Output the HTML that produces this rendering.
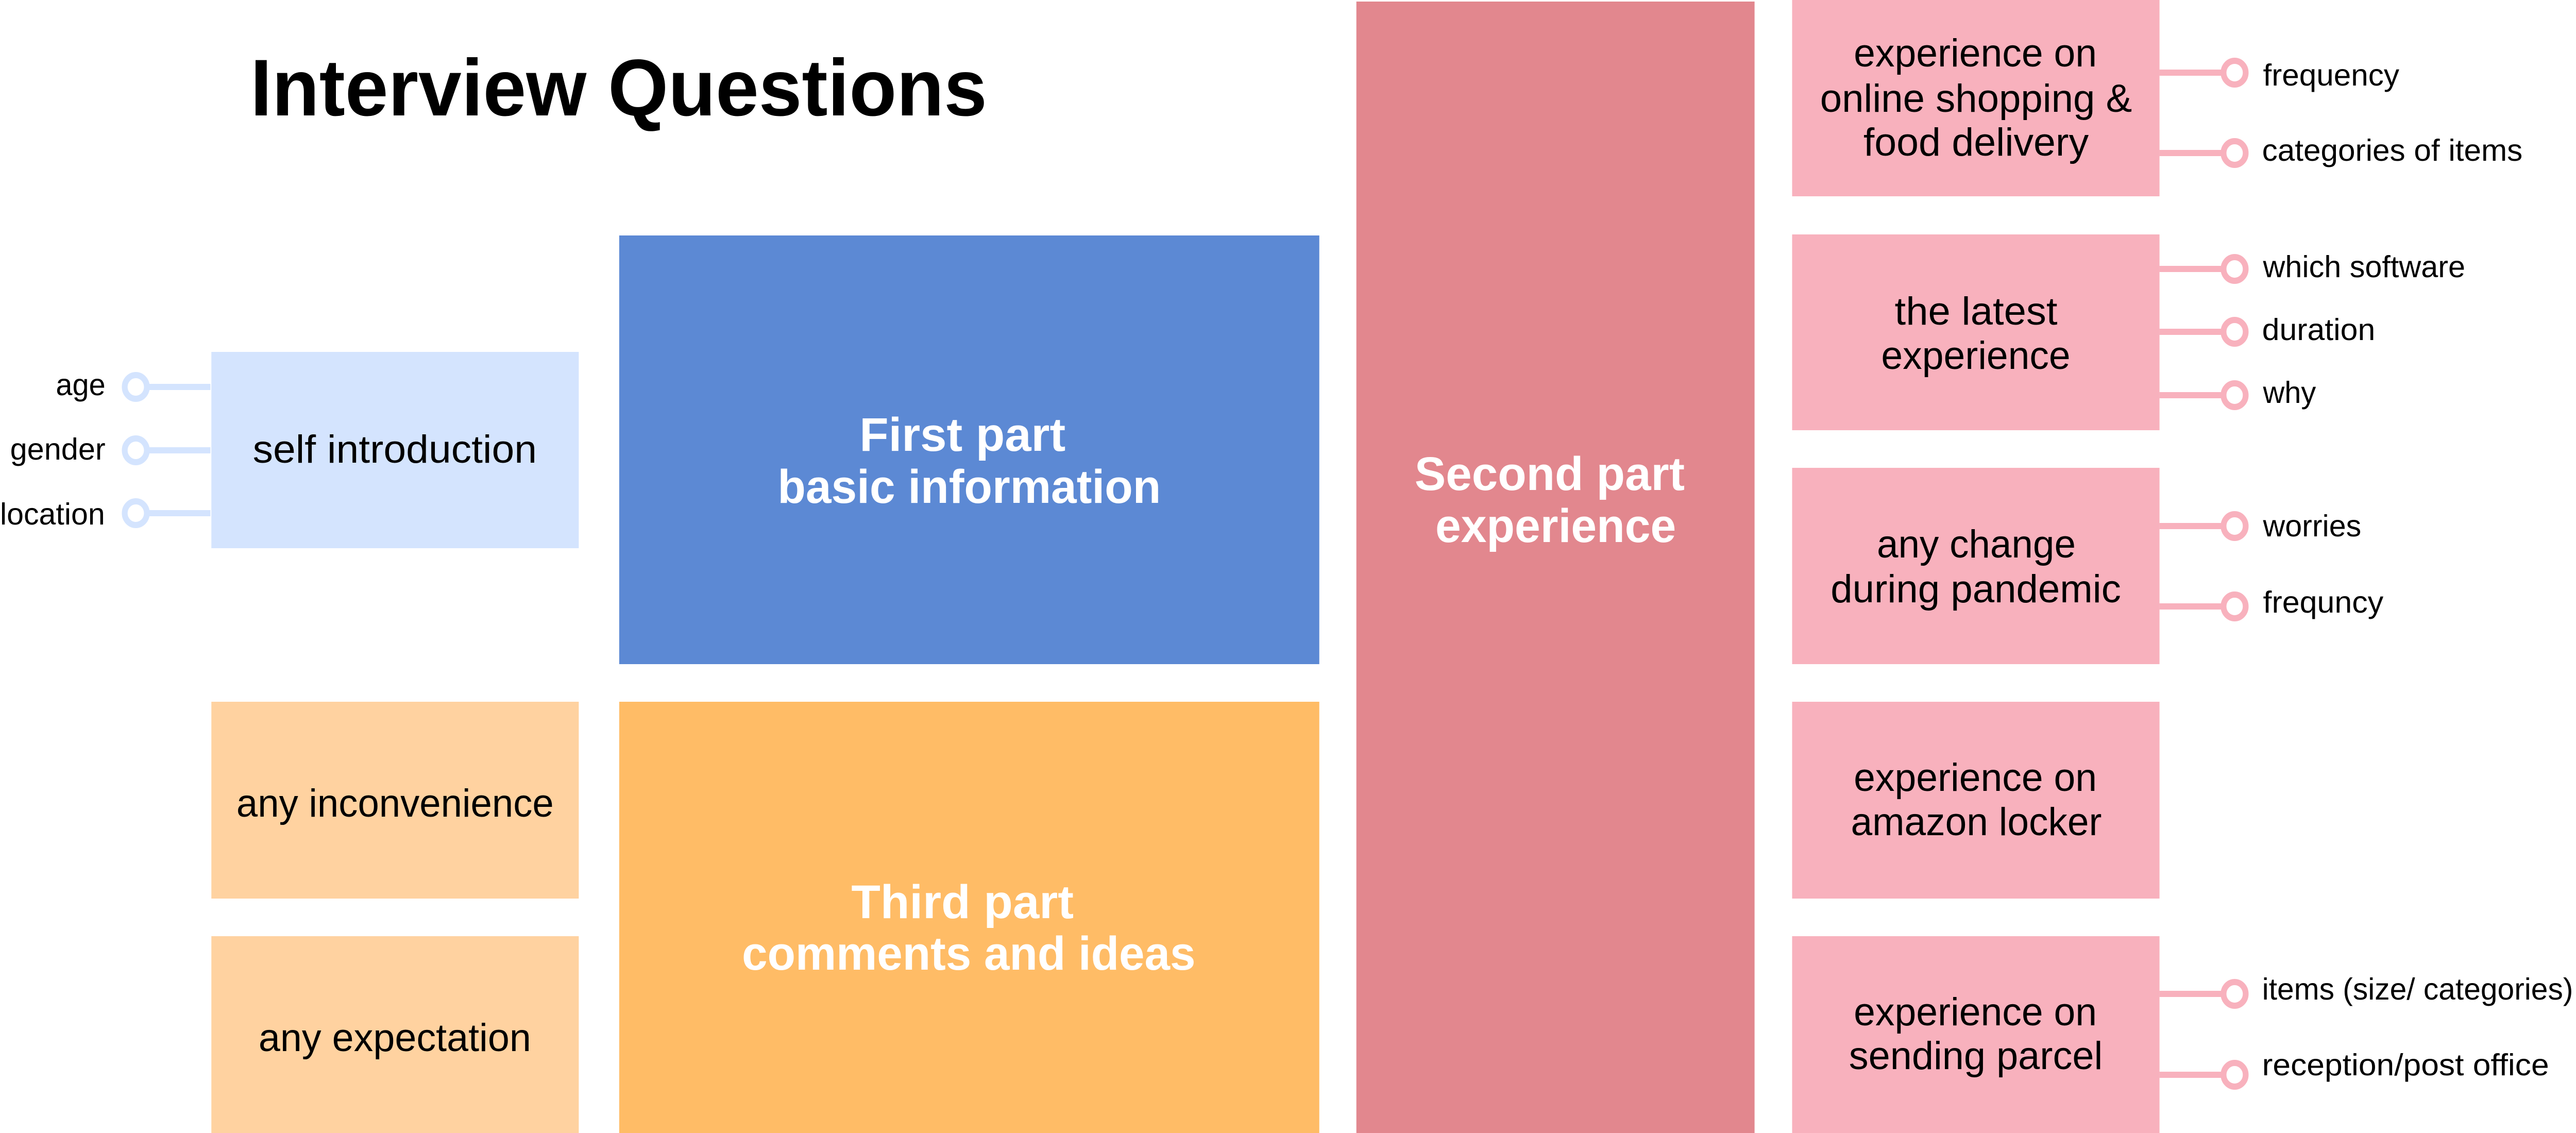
<!DOCTYPE html>
<html lang="en">
<head>
<meta charset="utf-8">
<title>Interview Questions</title>
<style>
html,body{margin:0;padding:0;background:#fff;width:100%;height:100%;overflow:hidden}
svg{display:block;width:100vw;height:100vh}
text{font-family:"Liberation Sans",Arial,sans-serif}
.t{font-size:156px;font-weight:700;fill:#000}
.h{font-size:92px;font-weight:700;fill:#fff}
.b{font-size:76px;fill:#000}
.l{font-size:59px;fill:#000}
</style>
</head>
<body>
<svg xmlns="http://www.w3.org/2000/svg" viewBox="0 0 5350 2199" preserveAspectRatio="none">
<rect width="5350" height="2199" fill="#fff"/>

<!-- main blocks -->
<rect x="1286" y="457" width="1454" height="832" fill="#5C89D4"/>
<rect x="1286" y="1362" width="1454" height="837" fill="#FFBC66"/>
<rect x="2817" y="3" width="827" height="2196" fill="#E2878E"/>

<!-- side blocks -->
<rect x="439" y="683" width="763" height="381" fill="#D4E4FE"/>
<rect x="439" y="1362" width="763" height="382" fill="#FFD2A0"/>
<rect x="439" y="1817" width="763" height="382" fill="#FFD2A0"/>
<g fill="#F8B1BD">
<rect x="3722" y="0" width="763" height="381"/>
<rect x="3722" y="455" width="763" height="380"/>
<rect x="3722" y="908" width="763" height="381"/>
<rect x="3722" y="1362" width="763" height="382"/>
<rect x="3722" y="1817" width="763" height="382"/>
</g>

<!-- connectors left -->
<g stroke="#D4E4FE" stroke-width="12" fill="#fff">
<line x1="310" y1="751" x2="437" y2="751"/>
<line x1="310" y1="874" x2="437" y2="874"/>
<line x1="310" y1="996" x2="437" y2="996"/>
<circle cx="282" cy="751" r="23"/>
<circle cx="282" cy="874" r="23"/>
<circle cx="282" cy="996" r="23"/>
</g>

<!-- connectors right -->
<g stroke="#F8B1BD" stroke-width="12" fill="#fff">
<line x1="4485" y1="141" x2="4615" y2="141"/>
<line x1="4485" y1="297" x2="4615" y2="297"/>
<line x1="4485" y1="522" x2="4615" y2="522"/>
<line x1="4485" y1="644" x2="4615" y2="644"/>
<line x1="4485" y1="767" x2="4615" y2="767"/>
<line x1="4485" y1="1021" x2="4615" y2="1021"/>
<line x1="4485" y1="1177" x2="4615" y2="1177"/>
<line x1="4485" y1="1929" x2="4615" y2="1929"/>
<line x1="4485" y1="2086" x2="4615" y2="2086"/>
<circle cx="4641" cy="141" r="23"/>
<circle cx="4641" cy="297" r="23"/>
<circle cx="4641" cy="522" r="23"/>
<circle cx="4641" cy="644" r="23"/>
<circle cx="4641" cy="767" r="23"/>
<circle cx="4641" cy="1021" r="23"/>
<circle cx="4641" cy="1177" r="23"/>
<circle cx="4641" cy="1929" r="23"/>
<circle cx="4641" cy="2086" r="23"/>
</g>

<!-- title -->
<text class="t" x="520" y="224" textLength="1530" lengthAdjust="spacingAndGlyphs">Interview Questions</text>

<!-- headings -->
<text class="h" x="1785" y="875" textLength="428" lengthAdjust="spacingAndGlyphs">First part</text>
<text class="h" x="1615" y="976" textLength="796" lengthAdjust="spacingAndGlyphs">basic information</text>
<text class="h" x="1768" y="1782" textLength="462" lengthAdjust="spacingAndGlyphs">Third part</text>
<text class="h" x="1541" y="1882" textLength="942" lengthAdjust="spacingAndGlyphs">comments and ideas</text>
<text class="h" x="2938" y="951" textLength="561" lengthAdjust="spacingAndGlyphs">Second part</text>
<text class="h" x="2981" y="1052" textLength="500" lengthAdjust="spacingAndGlyphs">experience</text>

<!-- box labels -->
<text class="b" x="525" y="898" textLength="590" lengthAdjust="spacingAndGlyphs">self introduction</text>
<text class="b" x="491" y="1585" textLength="659" lengthAdjust="spacingAndGlyphs">any inconvenience</text>
<text class="b" x="537" y="2040" textLength="566" lengthAdjust="spacingAndGlyphs">any expectation</text>

<text class="b" x="3850" y="129" textLength="505" lengthAdjust="spacingAndGlyphs">experience on</text>
<text class="b" x="3780" y="217" textLength="648" lengthAdjust="spacingAndGlyphs">online shopping &amp;</text>
<text class="b" x="3870" y="302" textLength="468" lengthAdjust="spacingAndGlyphs">food delivery</text>

<text class="b" x="3935" y="630" textLength="338" lengthAdjust="spacingAndGlyphs">the latest</text>
<text class="b" x="3907" y="716" textLength="393" lengthAdjust="spacingAndGlyphs">experience</text>

<text class="b" x="3898" y="1082" textLength="413" lengthAdjust="spacingAndGlyphs">any change</text>
<text class="b" x="3802" y="1169" textLength="603" lengthAdjust="spacingAndGlyphs">during pandemic</text>

<text class="b" x="3850" y="1535" textLength="505" lengthAdjust="spacingAndGlyphs">experience on</text>
<text class="b" x="3844" y="1621" textLength="521" lengthAdjust="spacingAndGlyphs">amazon locker</text>

<text class="b" x="3850" y="1990" textLength="505" lengthAdjust="spacingAndGlyphs">experience on</text>
<text class="b" x="3840" y="2075" textLength="527" lengthAdjust="spacingAndGlyphs">sending parcel</text>

<!-- leaf labels left -->
<text class="l" x="116" y="767" textLength="103" lengthAdjust="spacingAndGlyphs">age</text>
<text class="l" x="21" y="892" textLength="198" lengthAdjust="spacingAndGlyphs">gender</text>
<text class="l" x="0" y="1018" textLength="218" lengthAdjust="spacingAndGlyphs">location</text>

<!-- leaf labels right -->
<text class="l" x="4700" y="166" textLength="283" lengthAdjust="spacingAndGlyphs">frequency</text>
<text class="l" x="4698" y="312" textLength="541" lengthAdjust="spacingAndGlyphs">categories of items</text>
<text class="l" x="4700" y="538" textLength="420" lengthAdjust="spacingAndGlyphs">which software</text>
<text class="l" x="4698" y="660" textLength="235" lengthAdjust="spacingAndGlyphs">duration</text>
<text class="l" x="4700" y="782" textLength="110" lengthAdjust="spacingAndGlyphs">why</text>
<text class="l" x="4700" y="1041" textLength="204" lengthAdjust="spacingAndGlyphs">worries</text>
<text class="l" x="4700" y="1189" textLength="250" lengthAdjust="spacingAndGlyphs">frequncy</text>
<text class="l" x="4698" y="1940" textLength="646" lengthAdjust="spacingAndGlyphs">items (size/ categories)</text>
<text class="l" x="4698" y="2087" textLength="596" lengthAdjust="spacingAndGlyphs">reception/post office</text>
</svg>
</body>
</html>
